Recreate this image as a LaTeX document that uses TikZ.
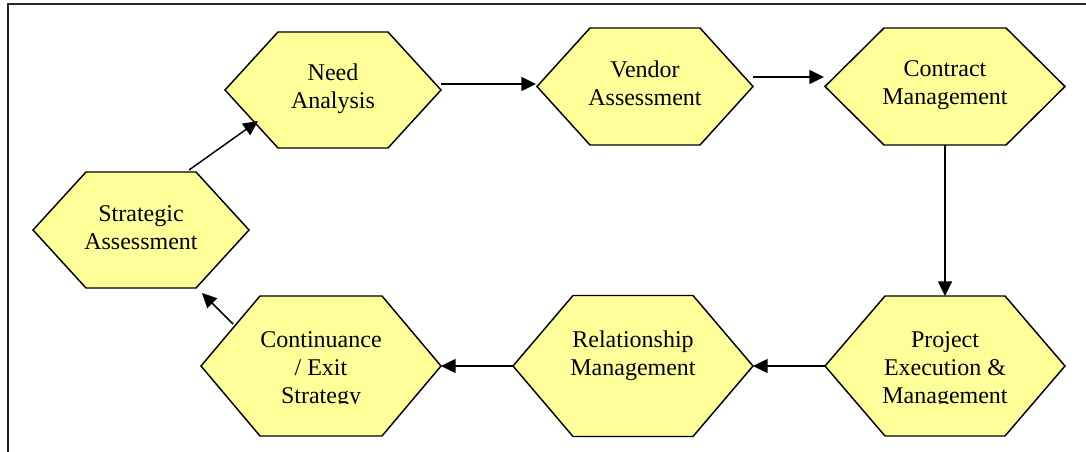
\documentclass[tikz,border=0pt]{standalone}
\usepackage{fontspec}
\setmainfont{Liberation Serif}
\usetikzlibrary{arrows.meta,calc}

\definecolor{hexyellow}{HTML}{FFFF99}

% one unit = one pixel, y running downwards
\tikzset{
  x=0.75pt, y=-0.75pt,
  hexbox/.style={rectangle, draw=none, inner sep=0pt, outer sep=0pt},
  hexface/.style={fill=hexyellow, draw=black, line width=1.1pt, line join=miter},
  hexlabel/.style={anchor=north, align=center, inner sep=0pt, outer sep=0pt,
    font=\fontsize{18pt}{21pt}\selectfont},
  flow/.style={draw=black, line width=1.1pt,
    -{Triangle[length=11pt,width=10.5pt]}},
  frameline/.style={draw=black!85, line width=1.3pt}
}

% #1 name, #2 cx, #3 cy, #4 width, #5 height, #6 corner inset
\newcommand{\hexstep}[6]{%
  \node[hexbox, minimum width=#4*0.75pt, minimum height=#5*0.75pt] (#1) at (#2,#3) {};
  \path[hexface] (#1.west) -- ($(#1.north west)+(#6,0)$) -- ($(#1.north east)-(#6,0)$)
    -- (#1.east) -- ($(#1.south east)-(#6,0)$) -- ($(#1.south west)+(#6,0)$) -- cycle;
}

\begin{document}
\begin{tikzpicture}
\useasboundingbox (0,0) rectangle (1086,452);

% outer frame (only top and left edges show)
\draw[frameline] (1095,4) -- (8,4) -- (8,460);

% process steps
\hexstep{sa}{141}{230}{216}{116}{53}
\hexstep{na}{333}{90}{216}{116}{53}
\hexstep{va}{645}{86.5}{216}{117}{53}
\hexstep{cm}{945}{86.5}{240}{117}{59}
\hexstep{pe}{945}{366}{240}{140}{60}
\hexstep{rm}{633}{366}{240}{141}{60}
\hexstep{ce}{321}{366}{240}{140}{59}

% labels
\node[hexlabel] (sa-t) at (141,205.5) {Strategic\\Assessment};
\node[hexlabel] (na-t) at (333,63.5) {Need\\Analysis};
\node[hexlabel] (va-t) at (645,60.5) {Vendor\\Assessment};
\node[hexlabel] (cm-t) at (945,60.5) {Contract\\Management};
\node[hexlabel] (rm-t) at (633,330.5) {Relationship\\Management};
\begin{scope}
  \clip (825,296) rectangle (1065,404);
  \node[hexlabel] (pe-t) at (945,331.5) {Project\\Execution \&\\Management};
\end{scope}
\begin{scope}
  \clip (201,296) rectangle (441,404);
  \node[hexlabel] (ce-t) at (321,331.5) {Continuance\\/ Exit\\Strategy};
\end{scope}

% cycle of connectors
\draw[flow] ($(sa.north east)+(-60,-2)$) -- ($(na.south west)+(33,-27)$);
\draw[flow] ($(na.east)+(0,-6)$) -- ($(va.west)+(-1,-2.5)$);
\draw[flow] ($(va.east)+(0,-9.5)$) -- ($(cm.west)+(-1,-9.5)$);
\draw[flow] (cm.south) -- (pe.north);
\draw[flow] (pe.west) -- (pe.west -| rm.east);
\draw[flow] (rm.west) -- (rm.west -| ce.east);
\draw[flow] ($(ce.north west)+(32,28)$) -- ($(sa.south east)+(-47,5)$);
\end{tikzpicture}
\end{document}
